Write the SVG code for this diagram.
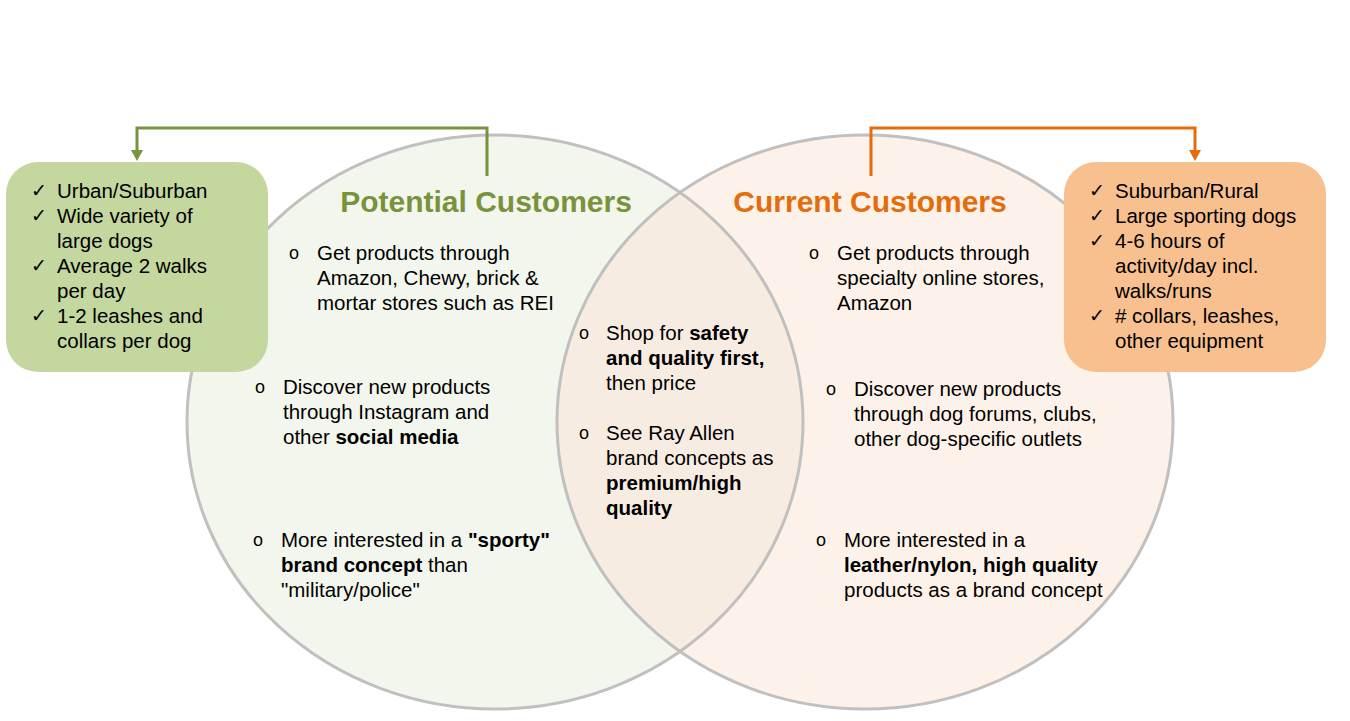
<svg xmlns="http://www.w3.org/2000/svg" width="1350" height="721" viewBox="0 0 1350 721">
<defs>
<style>
text{font-family:"Liberation Sans",Arial,sans-serif;font-size:20.5px;fill:#000}
.b{font-weight:bold}
.o{font-size:18px}
.ck{font-family:"DejaVu Sans","Liberation Sans",sans-serif;font-size:19px}
.title{font-size:30px;font-weight:bold;text-anchor:middle}
.ring{fill:none;stroke:#c0c0c0;stroke-width:3}
.conn{fill:none;stroke-width:3}
</style>
<clipPath id="clipL"><ellipse cx="495" cy="422" rx="308" ry="287"/></clipPath>
</defs>
<rect width="1350" height="721" fill="#ffffff"/>
<g id="circle-potential">
<ellipse cx="495" cy="422" rx="308" ry="287" fill="#f3f6ed"/>
</g>
<g id="circle-current">
<ellipse cx="865" cy="422" rx="308" ry="287" fill="#fdf2e9"/>
<ellipse cx="865" cy="422" rx="308" ry="287" fill="#f7ece2" clip-path="url(#clipL)"/>
<ellipse class="ring" cx="495" cy="422" rx="308" ry="287"/>
<ellipse class="ring" cx="865" cy="422" rx="308" ry="287"/>
</g>
<g id="connectors">
<path class="conn" stroke="#77933c" d="M487,176 V128 H137 V150"/>
<path d="M131,150 L143,150 L137,161 z" fill="#77933c"/>
<path class="conn" stroke="#e46c0a" d="M871,176 V128 H1195 V150"/>
<path d="M1189,150 L1201,150 L1195,161 z" fill="#e46c0a"/>
</g>
<g id="box-potential">
<rect x="6" y="162" width="262" height="210" rx="32" fill="#c4d79f"/>
<text class="ck" x="31" y="197">✓</text><text x="57" y="198">Urban/Suburban</text>
<text class="ck" x="31" y="222">✓</text><text x="57" y="223">Wide variety of</text>
<text x="57" y="248">large dogs</text>
<text class="ck" x="31" y="272">✓</text><text x="57" y="273">Average 2 walks</text>
<text x="57" y="298">per day</text>
<text class="ck" x="31" y="322">✓</text><text x="57" y="323">1-2 leashes and</text>
<text x="57" y="348">collars per dog</text>
</g>
<g id="box-current">
<rect x="1064" y="162" width="262" height="210" rx="32" fill="#f9c08f"/>
<text class="ck" x="1089" y="197">✓</text><text x="1115" y="198">Suburban/Rural</text>
<text class="ck" x="1089" y="222">✓</text><text x="1115" y="223">Large sporting dogs</text>
<text class="ck" x="1089" y="247">✓</text><text x="1115" y="248">4-6 hours of</text>
<text x="1115" y="273">activity/day incl.</text>
<text x="1115" y="298">walks/runs</text>
<text class="ck" x="1089" y="322">✓</text><text x="1115" y="323">#  collars, leashes,</text>
<text x="1115" y="348">other equipment</text>
</g>
<g id="potential-text">
<text class="title" x="486" y="212" style="fill:#77933c">Potential Customers</text>
<text class="o" x="289" y="259">o</text>
<text x="317" y="260">Get products through</text>
<text x="317" y="285">Amazon, Chewy, brick &amp;</text>
<text x="317" y="310">mortar stores such as REI</text>
<text class="o" x="255" y="393">o</text>
<text x="283" y="394">Discover new products</text>
<text x="283" y="419">through Instagram and</text>
<text x="283" y="444">other <tspan class="b">social media</tspan></text>
<text class="o" x="253" y="546">o</text>
<text x="281" y="547">More interested in a <tspan class="b">"sporty"</tspan></text>
<text x="281" y="572"><tspan class="b">brand concept</tspan> than</text>
<text x="281" y="597">"military/police"</text>
</g>
<g id="overlap-text">
<text class="o" x="579" y="339">o</text>
<text x="606" y="340">Shop for <tspan class="b">safety</tspan></text>
<text x="606" y="365" class="b">and quality first,</text>
<text x="606" y="390">then price</text>
<text class="o" x="579" y="439">o</text>
<text x="606" y="440">See Ray Allen</text>
<text x="606" y="465">brand concepts as</text>
<text x="606" y="490" class="b">premium/high</text>
<text x="606" y="515" class="b">quality</text>
</g>
<g id="current-text">
<text class="title" x="870" y="212" style="fill:#e46c0a">Current Customers</text>
<text class="o" x="809" y="259">o</text>
<text x="837" y="260">Get products through</text>
<text x="837" y="285">specialty online stores,</text>
<text x="837" y="310">Amazon</text>
<text class="o" x="826" y="395">o</text>
<text x="854" y="396">Discover new products</text>
<text x="854" y="421">through dog forums, clubs,</text>
<text x="854" y="446">other dog-specific outlets</text>
<text class="o" x="816" y="546">o</text>
<text x="844" y="547">More interested in a</text>
<text x="844" y="572" class="b">leather/nylon, high quality</text>
<text x="844" y="597">products as a brand concept</text>
</g>
</svg>
